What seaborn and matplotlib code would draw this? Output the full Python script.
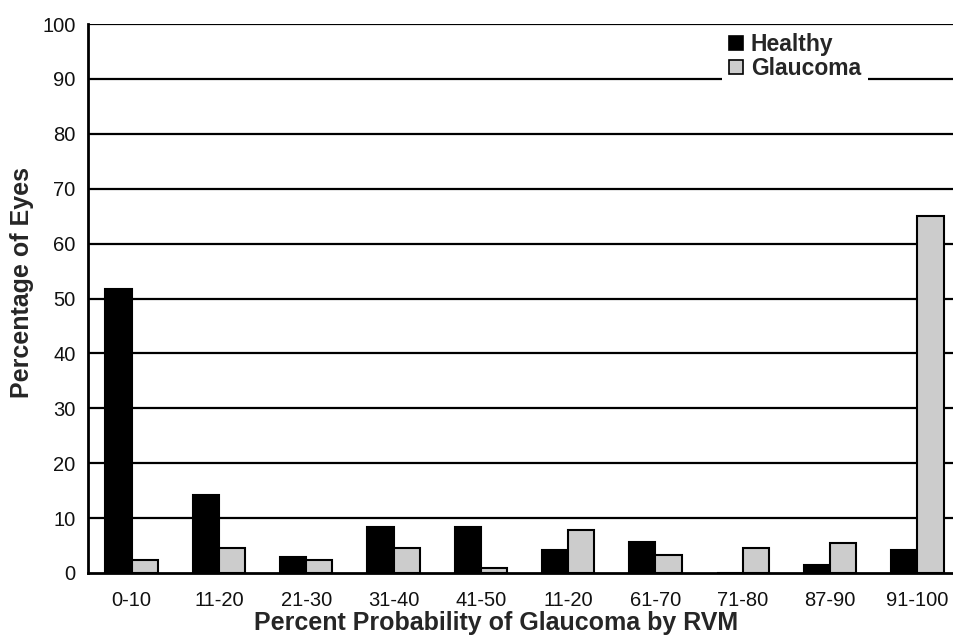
import matplotlib
matplotlib.use("Agg")
import matplotlib.pyplot as plt
import seaborn as sns
import pandas as pd
from matplotlib.ticker import FixedLocator
from matplotlib.patches import Patch

# ---- data ----
bin_labels = ["0-10", "11-20", "21-30", "31-40", "41-50",
              "11-20", "61-70", "71-80", "87-90", "91-100"]
healthy = [51.7, 14.2, 2.9, 8.3, 8.3, 4.2, 5.6, 0.0, 1.5, 4.2]
glaucoma = [2.3, 4.6, 2.4, 4.6, 1.0, 7.8, 3.2, 4.5, 5.4, 65.1]
y_ticks = [0, 10, 20, 30, 40, 50, 60, 70, 80, 90, 100]

rows = []
for i in range(len(bin_labels)):
    rows.append({"bin": i, "group": "Healthy", "pct": healthy[i]})
    rows.append({"bin": i, "group": "Glaucoma", "pct": glaucoma[i]})
df = pd.DataFrame(rows)

sns.set_style("white")
plt.rcParams["font.family"] = ["Liberation Sans", "DejaVu Sans"]

fig = plt.figure(figsize=(9.54, 6.35), dpi=100)
ax = fig.add_axes([88 / 954, 1 - 573 / 635, 1 - 88 / 954, (573 - 24) / 635])

sns.barplot(data=df, x="bin", y="pct", hue="group",
            hue_order=["Healthy", "Glaucoma"],
            palette={"Healthy": "#000000", "Glaucoma": "#cccccc"},
            width=0.6, edgecolor="black", linewidth=1.5,
            errorbar=None, ax=ax, legend=False, zorder=3)

ax.set_ylim(0, 100)
ax.set_xlim(-0.5, 9.42)
ax.set_yticks(y_ticks)
ax.set_yticklabels([str(t) for t in y_ticks], fontsize=14.5, color="#111111")
ax.set_xticks(range(len(bin_labels)))
ax.set_xticklabels(bin_labels, fontsize=14.5, color="#111111")
ax.xaxis.set_minor_locator(FixedLocator([i - 0.5 for i in range(len(bin_labels) + 1)]))
ax.tick_params(axis="x", which="major", length=0, pad=13)
ax.tick_params(axis="x", which="minor", length=6, width=1.5, direction="out", color="black")
ax.tick_params(axis="y", which="major", length=6, width=1.5, direction="out", color="black", pad=3)

for y in y_ticks[1:]:
    ax.axhline(y, color="black", linewidth=1.6, zorder=1)

for s in ["top", "right"]:
    ax.spines[s].set_visible(False)
ax.spines["left"].set_color("black")
ax.spines["left"].set_linewidth(2)
ax.spines["bottom"].set_color("black")
ax.spines["bottom"].set_linewidth(2)

ax.set_xlabel("Percent Probability of Glaucoma by RVM", fontsize=18,
              fontweight="bold")
ax.xaxis.set_label_coords((496.5 - 88) / 866, (573 - 611) / 549)
ax.set_ylabel("Percentage of Eyes", fontsize=18, fontweight="bold")
ax.yaxis.set_label_coords((34 - 88) / 866, (573 - 282.5) / 549)

handles = [Patch(facecolor="#000000", edgecolor="black", linewidth=1.2),
           Patch(facecolor="#cccccc", edgecolor="black", linewidth=1.2)]
leg = ax.legend(handles, ["Healthy", "Glaucoma"], loc="upper left",
                bbox_to_anchor=(722 / 954, 1 - 26 / 635),
                bbox_transform=fig.transFigure,
                handlelength=0.6, handleheight=0.6, handletextpad=0.35,
                labelspacing=0.05, borderpad=0.3, borderaxespad=0,
                frameon=True, fancybox=False,
                prop={"weight": "bold", "size": 16.5})
leg.get_frame().set_facecolor("white")
leg.get_frame().set_edgecolor("none")
leg.get_frame().set_alpha(1)
leg.set_zorder(5)

fig.savefig("out.png", dpi=100)
